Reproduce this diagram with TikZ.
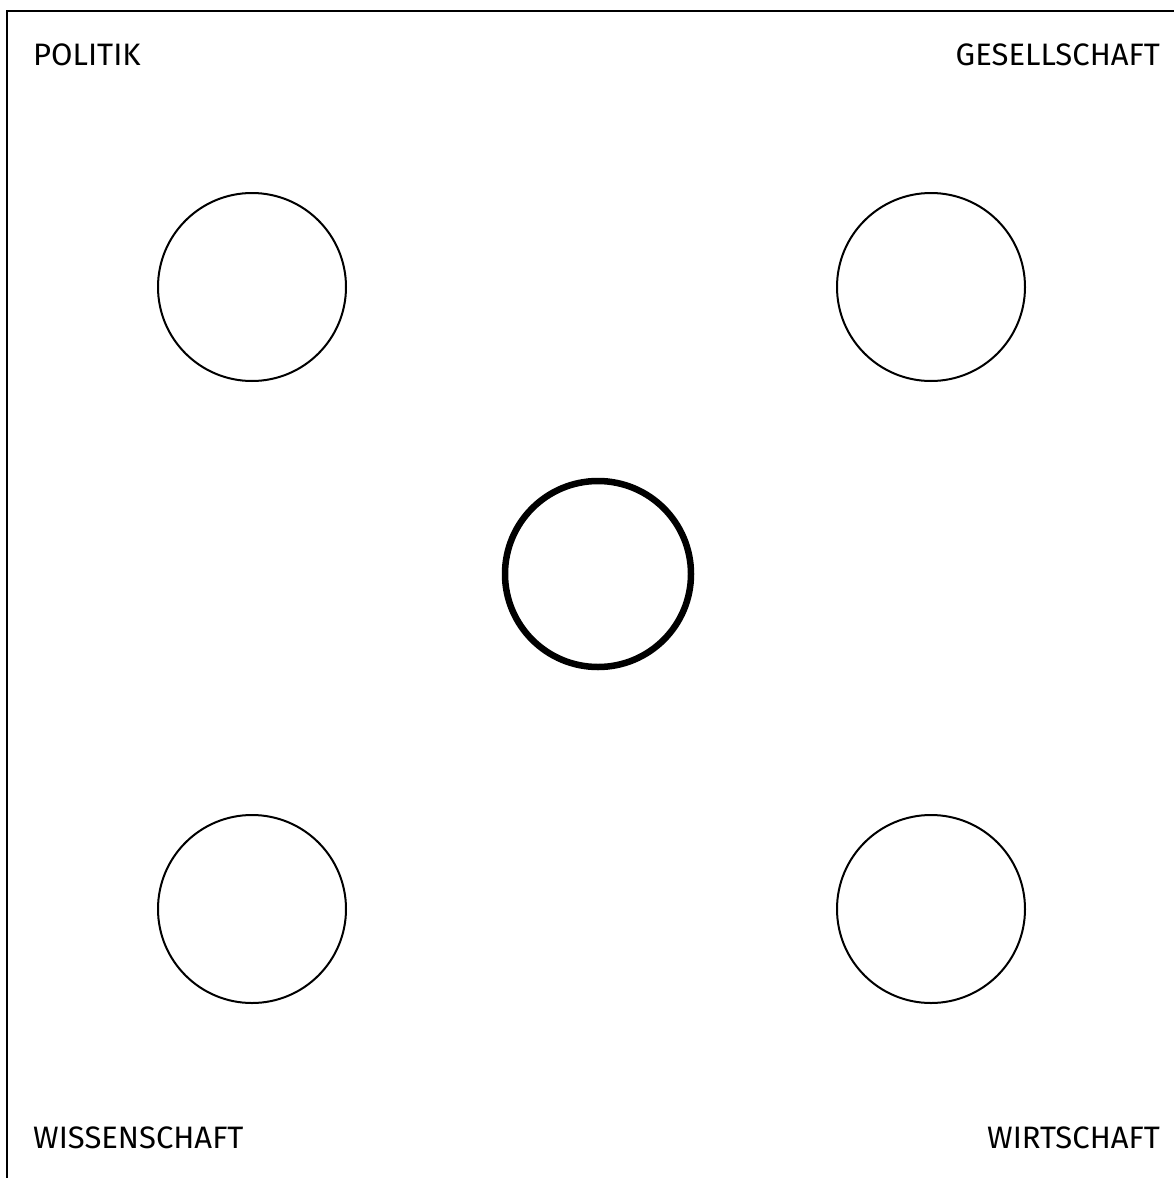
\documentclass[tikz,border=0pt]{standalone}
\usepackage{fontspec}
\setmainfont{Fira Sans}
\usetikzlibrary{positioning}

\begin{document}
\begin{tikzpicture}[x=1pt, y=-1pt,
        sector/.style={circle, draw, line width=2pt, minimum size=188pt, inner sep=0pt},
        core/.style={circle, draw, line width=6.5pt, minimum size=186pt, inner sep=0pt},
        label/.style={inner sep=0pt, font=\fontsize{31}{36}\selectfont}]
        \useasboundingbox (0,0) rectangle (1174,1178);
        % frame
        \draw[line width=2.5pt] (7,1178) -- (7,11) -- (1174,11);
        % circles
        \node[sector] (politik) at (252,287) {};
        \node[sector] (gesellschaft) at (931,287) {};
        \node[core] (mitte) at (598,574) {};
        \node[sector] (wissenschaft) at (252,909) {};
        \node[sector] (wirtschaft) at (931,909) {};
        % labels
        \node[label, anchor=base west] (lpolitik) at (33,65) {POLITIK};
        \node[label, anchor=base east] (lgesellschaft) at (1160,65) {GESELLSCHAFT};
        \node[label, anchor=base west] (lwissenschaft) at (33,1148) {WISSENSCHAFT};
        \node[label, anchor=base east] (lwirtschaft) at (1160,1148) {WIRTSCHAFT};
      \end{tikzpicture}
\end{document}
